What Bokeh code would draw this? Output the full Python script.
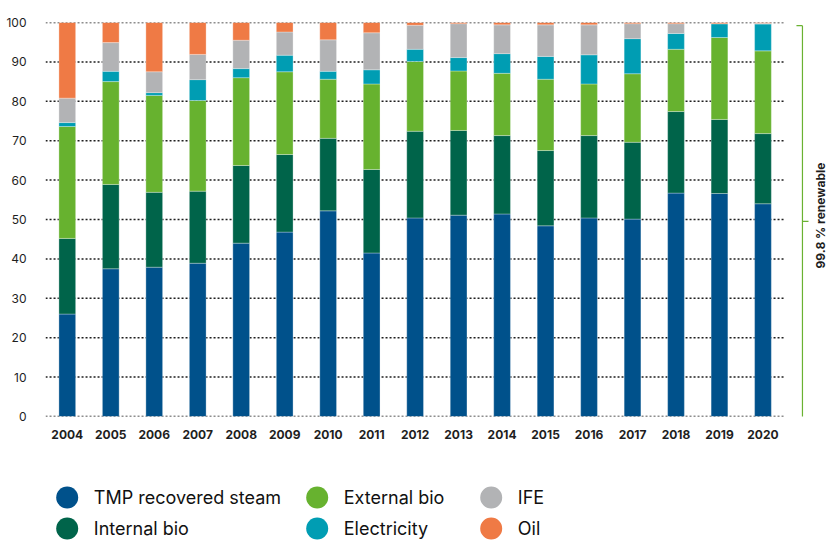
import math
from bokeh.plotting import figure
from bokeh.models import Range1d, FixedTicker, ColumnDataSource
from bokeh.layouts import column
from bokeh.embed import file_html
from bokeh.resources import INLINE
from bokeh.core.properties import value

# ---------------- data ----------------
years = [2004, 2005, 2006, 2007, 2008, 2009, 2010, 2011, 2012,
         2013, 2014, 2015, 2016, 2017, 2018, 2019, 2020]
series_names = ["TMP recovered steam", "Internal bio", "External bio",
                "Electricity", "IFE", "Oil"]
tmp_steam = [26.0, 37.5, 37.9, 38.9, 44.0, 46.8, 52.2, 41.5, 50.4,
             51.1, 51.4, 48.4, 50.4, 50.1, 56.7, 56.6, 54.0]
internal_bio = [19.2, 21.4, 19.0, 18.3, 19.7, 19.7, 18.4, 21.2, 22.0,
                21.5, 19.9, 19.1, 20.9, 19.5, 20.7, 18.8, 17.8]
external_bio = [28.4, 26.1, 24.6, 23.0, 22.3, 21.0, 15.0, 21.7, 17.7,
                15.1, 15.8, 18.1, 13.1, 17.4, 15.8, 20.8, 21.0]
electricity = [1.0, 2.6, 0.7, 5.3, 2.3, 4.2, 2.0, 3.6, 3.1,
               3.4, 5.0, 5.8, 7.4, 8.9, 4.0, 3.5, 6.8]
ife = [6.2, 7.3, 5.3, 6.4, 7.2, 5.9, 8.0, 9.4, 6.1,
       8.6, 7.3, 8.0, 7.6, 3.8, 2.5, 0.0, 0.2]
oil = [19.2, 5.1, 12.5, 8.1, 4.5, 2.4, 4.4, 2.6, 0.7,
       0.3, 0.6, 0.6, 0.6, 0.3, 0.3, 0.3, 0.2]
y_ticks = [0, 10, 20, 30, 40, 50, 60, 70, 80, 90, 100]
renewable_label = "99.8 % renewable"

colors = ["#00518B", "#00644A", "#67B22F", "#009DB3", "#B2B3B5", "#EF7A45"]
keys = ["tmp", "internal", "external", "elec", "ife", "oil"]
FONT = "Inter"

src = ColumnDataSource(dict(x=years, tmp=tmp_steam, internal=internal_bio,
                            external=external_bio, elec=electricity,
                            ife=ife, oil=oil))

FRAME_LEFT = 45      # page px
FRAME_RIGHT = 829    # page px

# ---------------- main chart ----------------
p = figure(width=829, height=460,
           x_range=Range1d(years[0] - 0.501, years[-1] + 1.53),
           y_range=Range1d(0, 100),
           output_backend="svg", toolbar_location=None,
           min_border_left=FRAME_LEFT, min_border_right=0,
           min_border_top=22, min_border_bottom=44)
p.outline_line_color = None
p.grid.visible = False
p.background_fill_color = "white"
p.border_fill_color = "white"

# dotted gridlines (limited to the bar area)
p.segment(x0=[years[0] - 0.5] * len(y_ticks), x1=[years[-1] + 0.5] * len(y_ticks),
          y0=y_ticks, y1=y_ticks, line_color="#1e1e1e", line_width=1.5,
          line_dash="2 2")

p.vbar_stack(keys, x="x", width=0.385, source=src, color=colors,
             line_color="white", line_width=0.6, line_alpha=0.5)

# axes
p.xaxis.ticker = FixedTicker(ticks=years)
p.yaxis.ticker = FixedTicker(ticks=y_ticks)
for ax in (p.xaxis, p.yaxis):
    ax.axis_line_color = None
    ax.major_tick_line_color = None
    ax.minor_tick_line_color = None
    ax.major_label_text_font = FONT
    ax.major_label_text_font_size = "12px"
    ax.major_label_text_color = "#1e1e1e"
p.xaxis.major_label_text_font_style = "bold"
p.xaxis.major_label_standoff = 7
p.yaxis.major_label_standoff = 13

# renewable bracket
bx = years[-1] + 0.908
b_top, b_bot, b_mid = 99.2, -0.3, 49.5
p.segment(x0=[bx, years[-1] + 0.77, years[-1] + 0.77, bx],
          x1=[bx, bx, bx, years[-1] + 1.047],
          y0=[b_bot, b_top, b_bot, b_mid],
          y1=[b_top, b_top, b_bot, b_mid],
          line_color="#6AB232", line_width=1.2)
p.text(x=[years[-1] + 1.14], y=[51], text=[renewable_label], angle=math.pi / 2,
       text_align="center", text_baseline="top", text_font=value(FONT),
       text_font_style="bold", text_font_size="12px", text_color="#1e1e1e")

# ---------------- legend (coordinates in page pixels) ----------------
lf = figure(width=829, height=81,
            x_range=Range1d(FRAME_LEFT, FRAME_RIGHT), y_range=Range1d(541, 460),
            output_backend="svg", toolbar_location=None,
            min_border_left=FRAME_LEFT, min_border_right=0,
            min_border_top=0, min_border_bottom=0,
            x_axis_type=None, y_axis_type=None)
lf.outline_line_color = None
lf.grid.visible = False
col_x = [66.7, 316.7, 490.7]
row_y = [497, 528]
lx = [col_x[i // 2] for i in range(len(series_names))]
ly = [row_y[i % 2] for i in range(len(series_names))]
lf.scatter(x=lx, y=ly, size=22, marker="circle", color=colors, line_color=None)
lf.text(x=[v + 26.6 for v in lx], y=ly, text=series_names, text_baseline="middle",
        text_align="left", text_font=value(FONT), text_font_size="18px",
        text_color="#111111")

layout = column(p, lf, spacing=0)
open("out.html", "w").write(file_html(layout, INLINE))
